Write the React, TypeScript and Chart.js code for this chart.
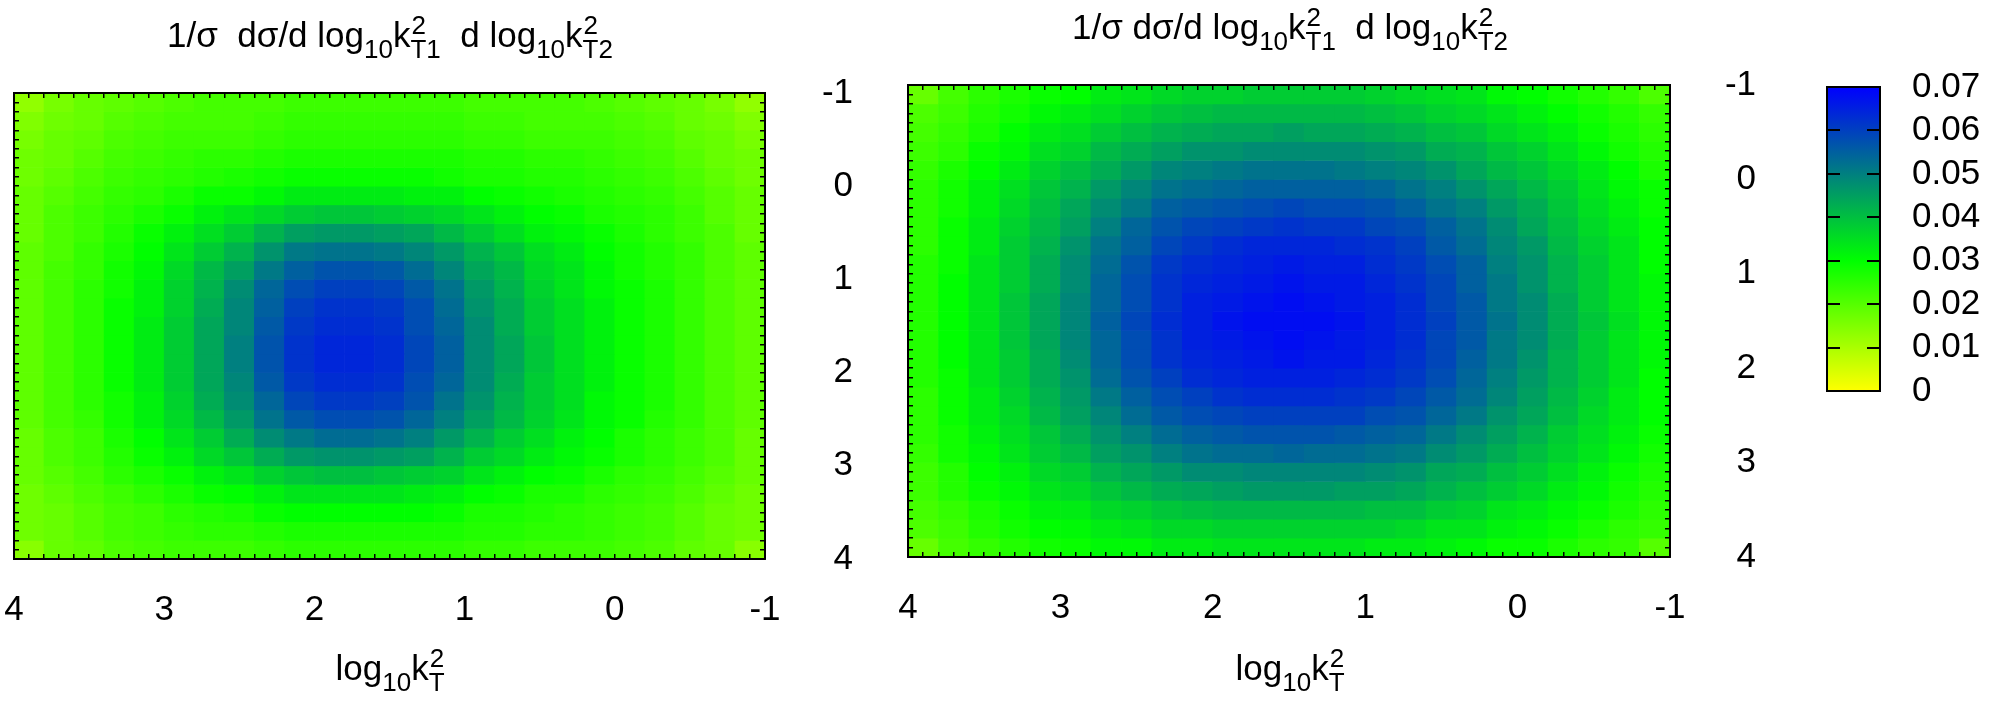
import React, { useEffect, useRef } from 'react';
import { Chart, registerables } from 'chart.js';

Chart.register(...registerables);

const FONT_FAMILY = "'Liberation Sans', Arial, Helvetica, sans-serif";
Chart.defaults.font.family = FONT_FAMILY;
Chart.defaults.color = '#000';

// ---------------- data ----------------
const AXIS_MIN = -1;
const AXIS_MAX = 4;
const AXIS_MINOR_STEP = 0.1;
const BIN_WIDTH = 0.2;
// bin centres of log10 kT^2, in display order (x axis runs 4 -> -1, y axis runs -1 -> 4)
const X_BIN_CENTERS = [3.9, 3.7, 3.5, 3.3, 3.1, 2.9, 2.7, 2.5, 2.3, 2.1, 1.9, 1.7, 1.5, 1.3, 1.1, 0.9, 0.7, 0.5, 0.3, 0.1, -0.1, -0.3, -0.5, -0.7, -0.9];
const Y_BIN_CENTERS = [-0.9, -0.7, -0.5, -0.3, -0.1, 0.1, 0.3, 0.5, 0.7, 0.9, 1.1, 1.3, 1.5, 1.7, 1.9, 2.1, 2.3, 2.5, 2.7, 2.9, 3.1, 3.3, 3.5, 3.7, 3.9];
const COLOR_SCALE_RANGE = [0, 0.07];
const COLOR_SCALE_STEP = 0.01;

// 1/sigma dsigma / dlog10kT1^2 dlog10kT2^2, rows = Y_BIN_CENTERS, columns = X_BIN_CENTERS
const LEFT_VALUES = [
  [0.013,0.016,0.018,0.019,0.020,0.021,0.022,0.022,0.022,0.023,0.023,0.023,0.023,0.023,0.023,0.022,0.022,0.022,0.022,0.021,0.020,0.019,0.018,0.016,0.013],
  [0.015,0.017,0.018,0.020,0.021,0.022,0.022,0.022,0.023,0.024,0.024,0.024,0.024,0.024,0.024,0.023,0.023,0.022,0.022,0.022,0.021,0.020,0.018,0.017,0.015],
  [0.016,0.018,0.019,0.021,0.022,0.023,0.023,0.023,0.024,0.025,0.025,0.025,0.025,0.025,0.025,0.024,0.024,0.023,0.023,0.023,0.022,0.021,0.019,0.018,0.016],
  [0.017,0.018,0.020,0.022,0.023,0.024,0.025,0.025,0.026,0.027,0.027,0.027,0.027,0.027,0.027,0.026,0.026,0.025,0.025,0.024,0.023,0.022,0.020,0.018,0.017],
  [0.017,0.019,0.021,0.023,0.024,0.025,0.026,0.027,0.028,0.029,0.029,0.029,0.029,0.029,0.028,0.027,0.027,0.026,0.026,0.025,0.024,0.023,0.021,0.019,0.017],
  [0.018,0.020,0.022,0.024,0.025,0.027,0.029,0.029,0.031,0.033,0.033,0.033,0.033,0.032,0.032,0.030,0.029,0.028,0.027,0.026,0.025,0.024,0.022,0.020,0.018],
  [0.018,0.021,0.023,0.025,0.027,0.029,0.032,0.034,0.036,0.038,0.039,0.039,0.038,0.037,0.036,0.034,0.032,0.030,0.029,0.027,0.026,0.025,0.023,0.020,0.018],
  [0.018,0.021,0.023,0.026,0.029,0.032,0.035,0.038,0.042,0.045,0.046,0.046,0.045,0.044,0.041,0.038,0.035,0.032,0.031,0.029,0.027,0.025,0.023,0.021,0.018],
  [0.019,0.021,0.024,0.027,0.030,0.034,0.038,0.042,0.047,0.051,0.052,0.052,0.051,0.049,0.046,0.042,0.039,0.035,0.033,0.030,0.028,0.026,0.024,0.021,0.019],
  [0.019,0.022,0.024,0.028,0.031,0.036,0.041,0.045,0.051,0.055,0.057,0.057,0.056,0.053,0.049,0.044,0.041,0.036,0.034,0.031,0.028,0.026,0.024,0.021,0.019],
  [0.019,0.022,0.025,0.028,0.032,0.037,0.042,0.048,0.054,0.058,0.060,0.060,0.059,0.056,0.052,0.046,0.042,0.037,0.034,0.031,0.029,0.027,0.024,0.021,0.019],
  [0.019,0.022,0.025,0.029,0.032,0.037,0.043,0.049,0.055,0.060,0.062,0.062,0.061,0.058,0.053,0.047,0.043,0.038,0.035,0.032,0.029,0.027,0.024,0.021,0.019],
  [0.019,0.022,0.025,0.029,0.033,0.038,0.044,0.049,0.056,0.061,0.063,0.063,0.062,0.058,0.054,0.048,0.043,0.038,0.035,0.032,0.029,0.027,0.024,0.021,0.019],
  [0.019,0.022,0.025,0.029,0.033,0.038,0.044,0.050,0.057,0.062,0.064,0.064,0.063,0.059,0.055,0.048,0.044,0.039,0.035,0.032,0.029,0.027,0.024,0.021,0.019],
  [0.019,0.022,0.025,0.029,0.033,0.038,0.044,0.050,0.057,0.062,0.064,0.064,0.063,0.059,0.055,0.048,0.044,0.039,0.035,0.032,0.029,0.027,0.024,0.021,0.019],
  [0.019,0.022,0.025,0.029,0.033,0.038,0.044,0.049,0.056,0.061,0.063,0.063,0.062,0.058,0.054,0.048,0.043,0.038,0.035,0.032,0.029,0.027,0.024,0.021,0.019],
  [0.019,0.022,0.025,0.028,0.032,0.037,0.043,0.048,0.054,0.059,0.061,0.061,0.060,0.057,0.052,0.047,0.042,0.038,0.035,0.031,0.029,0.027,0.024,0.021,0.019],
  [0.019,0.022,0.024,0.028,0.032,0.036,0.041,0.046,0.052,0.056,0.058,0.058,0.057,0.054,0.050,0.045,0.041,0.037,0.034,0.031,0.029,0.026,0.024,0.021,0.019],
  [0.018,0.021,0.023,0.027,0.030,0.034,0.038,0.043,0.048,0.051,0.053,0.053,0.052,0.050,0.046,0.042,0.038,0.035,0.032,0.030,0.027,0.025,0.023,0.021,0.018],
  [0.018,0.021,0.023,0.026,0.029,0.032,0.036,0.039,0.043,0.046,0.047,0.047,0.046,0.045,0.042,0.038,0.036,0.033,0.031,0.029,0.027,0.025,0.023,0.021,0.018],
  [0.018,0.020,0.022,0.025,0.027,0.029,0.032,0.034,0.037,0.039,0.040,0.040,0.039,0.038,0.037,0.034,0.032,0.030,0.029,0.027,0.025,0.024,0.022,0.020,0.018],
  [0.017,0.019,0.021,0.023,0.025,0.027,0.029,0.030,0.032,0.034,0.034,0.034,0.034,0.033,0.032,0.030,0.029,0.027,0.027,0.025,0.024,0.023,0.021,0.019,0.017],
  [0.017,0.018,0.020,0.022,0.023,0.025,0.026,0.027,0.029,0.030,0.030,0.030,0.030,0.030,0.029,0.027,0.027,0.026,0.025,0.024,0.023,0.022,0.020,0.018,0.017],
  [0.017,0.018,0.020,0.022,0.023,0.024,0.025,0.025,0.026,0.027,0.027,0.027,0.027,0.027,0.027,0.026,0.026,0.025,0.025,0.024,0.023,0.022,0.020,0.018,0.017],
  [0.014,0.018,0.019,0.021,0.022,0.023,0.023,0.023,0.024,0.025,0.025,0.025,0.025,0.025,0.025,0.024,0.024,0.023,0.023,0.023,0.022,0.021,0.019,0.018,0.014],
];

const RIGHT_VALUES = [
  [0.018,0.022,0.025,0.027,0.029,0.030,0.033,0.034,0.036,0.037,0.037,0.038,0.038,0.038,0.038,0.037,0.036,0.035,0.034,0.031,0.030,0.028,0.026,0.024,0.021],
  [0.021,0.023,0.026,0.028,0.031,0.033,0.035,0.037,0.039,0.040,0.041,0.041,0.041,0.041,0.041,0.040,0.039,0.037,0.036,0.034,0.032,0.030,0.028,0.026,0.024],
  [0.022,0.024,0.027,0.030,0.033,0.035,0.038,0.040,0.042,0.043,0.044,0.044,0.045,0.044,0.044,0.043,0.042,0.040,0.039,0.036,0.034,0.032,0.029,0.027,0.025],
  [0.023,0.025,0.029,0.031,0.035,0.037,0.041,0.043,0.045,0.047,0.047,0.048,0.048,0.048,0.048,0.047,0.046,0.043,0.042,0.039,0.037,0.034,0.031,0.028,0.026],
  [0.024,0.027,0.030,0.033,0.037,0.040,0.043,0.046,0.049,0.050,0.051,0.052,0.052,0.052,0.051,0.050,0.049,0.047,0.044,0.041,0.039,0.036,0.033,0.030,0.027],
  [0.025,0.028,0.032,0.035,0.039,0.042,0.046,0.049,0.052,0.053,0.054,0.055,0.055,0.055,0.055,0.054,0.052,0.050,0.047,0.044,0.041,0.038,0.034,0.031,0.029],
  [0.025,0.028,0.032,0.036,0.040,0.044,0.048,0.051,0.055,0.056,0.057,0.058,0.059,0.058,0.058,0.057,0.055,0.052,0.050,0.046,0.043,0.039,0.035,0.032,0.029],
  [0.025,0.029,0.033,0.037,0.041,0.045,0.050,0.054,0.057,0.059,0.060,0.061,0.062,0.061,0.061,0.059,0.058,0.055,0.052,0.048,0.044,0.040,0.036,0.033,0.030],
  [0.025,0.029,0.033,0.038,0.042,0.047,0.052,0.055,0.059,0.061,0.063,0.064,0.064,0.064,0.063,0.062,0.060,0.056,0.053,0.049,0.046,0.041,0.037,0.034,0.030],
  [0.026,0.029,0.034,0.038,0.043,0.048,0.053,0.057,0.061,0.063,0.064,0.065,0.066,0.065,0.065,0.063,0.061,0.058,0.055,0.050,0.047,0.042,0.038,0.034,0.030],
  [0.026,0.030,0.034,0.038,0.043,0.048,0.054,0.058,0.062,0.064,0.065,0.066,0.067,0.066,0.066,0.064,0.062,0.059,0.055,0.051,0.047,0.042,0.038,0.034,0.031],
  [0.026,0.030,0.034,0.039,0.044,0.049,0.054,0.058,0.062,0.065,0.066,0.067,0.068,0.067,0.066,0.065,0.063,0.059,0.056,0.051,0.048,0.043,0.038,0.034,0.031],
  [0.026,0.030,0.034,0.039,0.044,0.049,0.055,0.059,0.063,0.065,0.067,0.068,0.068,0.068,0.067,0.065,0.063,0.060,0.056,0.052,0.048,0.043,0.039,0.035,0.031],
  [0.026,0.030,0.034,0.039,0.044,0.049,0.054,0.058,0.062,0.065,0.066,0.067,0.068,0.067,0.066,0.065,0.063,0.059,0.056,0.051,0.048,0.043,0.038,0.034,0.031],
  [0.026,0.030,0.034,0.038,0.043,0.048,0.054,0.058,0.062,0.064,0.065,0.066,0.067,0.066,0.066,0.064,0.062,0.059,0.055,0.051,0.047,0.042,0.038,0.034,0.031],
  [0.026,0.029,0.034,0.038,0.043,0.047,0.053,0.057,0.060,0.063,0.064,0.065,0.065,0.065,0.064,0.063,0.061,0.058,0.054,0.050,0.046,0.042,0.038,0.034,0.030],
  [0.025,0.029,0.033,0.037,0.042,0.046,0.051,0.055,0.058,0.060,0.062,0.063,0.063,0.063,0.062,0.061,0.059,0.056,0.053,0.049,0.045,0.041,0.037,0.033,0.030],
  [0.025,0.029,0.033,0.036,0.041,0.045,0.049,0.053,0.056,0.058,0.059,0.060,0.060,0.060,0.060,0.058,0.057,0.054,0.051,0.047,0.044,0.040,0.036,0.033,0.030],
  [0.025,0.028,0.032,0.035,0.039,0.043,0.047,0.050,0.053,0.055,0.056,0.057,0.057,0.057,0.056,0.055,0.054,0.051,0.048,0.045,0.042,0.038,0.035,0.032,0.029],
  [0.024,0.028,0.031,0.034,0.038,0.041,0.045,0.047,0.050,0.052,0.053,0.053,0.054,0.053,0.053,0.052,0.051,0.048,0.046,0.043,0.040,0.037,0.034,0.031,0.028],
  [0.023,0.026,0.030,0.032,0.036,0.038,0.042,0.044,0.046,0.048,0.048,0.049,0.049,0.049,0.049,0.048,0.047,0.044,0.043,0.040,0.038,0.035,0.032,0.029,0.027],
  [0.023,0.026,0.029,0.031,0.034,0.036,0.039,0.041,0.043,0.044,0.045,0.046,0.046,0.046,0.045,0.045,0.044,0.042,0.040,0.038,0.036,0.033,0.031,0.028,0.026],
  [0.022,0.024,0.027,0.029,0.032,0.033,0.036,0.037,0.039,0.040,0.041,0.041,0.041,0.041,0.041,0.040,0.040,0.038,0.037,0.034,0.033,0.031,0.029,0.027,0.025],
  [0.021,0.023,0.026,0.028,0.030,0.031,0.033,0.034,0.036,0.036,0.037,0.037,0.037,0.037,0.037,0.037,0.036,0.034,0.034,0.032,0.031,0.029,0.027,0.025,0.024],
  [0.018,0.022,0.024,0.026,0.028,0.029,0.031,0.031,0.033,0.033,0.034,0.034,0.034,0.034,0.034,0.033,0.033,0.032,0.031,0.029,0.029,0.027,0.025,0.024,0.020],
];

// ---------------- style ----------------
const PAGE_W = 1998;
const PAGE_H = 704;
const TICK_FONT = { family: FONT_FAMILY, size: 35 };
const MAIN_SIZE = 35;
const SMALL_SIZE = 26;

const COLOR_STOPS = [
  { at: 0, rgb: [255, 255, 0] },
  { at: 0.03, rgb: [0, 255, 0] },
  { at: 0.07, rgb: [0, 0, 255] },
];

function rgbString(c: number[]) {
  return `rgb(${Math.round(c[0])},${Math.round(c[1])},${Math.round(c[2])})`;
}

function valueColor(v: number) {
  const s = COLOR_STOPS;
  if (v <= s[0].at) return rgbString(s[0].rgb);
  for (let i = 1; i < s.length; i++) {
    if (v <= s[i].at) {
      const t = (v - s[i - 1].at) / (s[i].at - s[i - 1].at);
      return rgbString(s[i - 1].rgb.map((c, k) => c + (s[i].rgb[k] - c) * t));
    }
  }
  return rgbString(s[s.length - 1].rgb);
}

type Area = { left: number; top: number; right: number; bottom: number };
type PanelLayout = { canvasLeft: number; canvasWidth: number; area: Area; yLabelRight: number };

const LEFT_PANEL: PanelLayout = { canvasLeft: 0, canvasWidth: 900, area: { left: 14, top: 93, right: 765, bottom: 559 }, yLabelRight: 853 };
const RIGHT_PANEL: PanelLayout = { canvasLeft: 880, canvasWidth: 900, area: { left: 908, top: 85, right: 1670, bottom: 557 }, yLabelRight: 1756 };
const COLORBAR_PANEL = { canvasLeft: 1790, canvasWidth: 208, area: { left: 1827, top: 87, right: 1880, bottom: 391 }, labelPadding: 45 };

const integerLabel = (v: number | string) => {
  const n = Number(v);
  return Math.abs(n - Math.round(n)) < 1e-6 ? String(Math.round(n)) : '';
};

// fixes an axis box to an exact size, with no extra label padding requested from the layout
function fixedSize(kind: 'width' | 'height', size: number) {
  return (s: any) => {
    s[kind] = size;
    s.paddingLeft = 0;
    s.paddingRight = 0;
    s.paddingTop = 0;
    s.paddingBottom = 0;
  };
}

function heatmapConfig(values: number[][], p: PanelLayout): any {
  const a = p.area;
  const rightAxisW = p.yLabelRight - a.right;
  const rightPad = p.canvasLeft + p.canvasWidth - p.yLabelRight;
  const bottomH = PAGE_H - a.bottom;
  const datasets = Y_BIN_CENTERS.map((yc, r) => ({
    type: 'bar',
    label: `row ${yc}`,
    data: X_BIN_CENTERS.map((xc) => ({ x: xc, y: [yc - BIN_WIDTH / 2, yc + BIN_WIDTH / 2] })),
    backgroundColor: values[r].map(valueColor),
    borderWidth: 0,
    grouped: false,
    categoryPercentage: 1,
    barPercentage: 1,
    xAxisID: 'xb',
    yAxisID: 'yb',
  }));
  const frameGrid = {
    display: true, drawOnChartArea: false, drawTicks: true, tickLength: -5,
    color: '#000', lineWidth: 1.5, offset: false, z: 1,
  };
  const frameBorder = { display: true, color: '#000', width: 2, z: 2 };
  const axisBase = { type: 'linear', min: AXIS_MIN, max: AXIS_MAX, reverse: true, offset: false, grid: frameGrid, border: frameBorder };
  const hiddenTicks = { display: false, stepSize: AXIS_MINOR_STEP, autoSkip: false };
  return {
    type: 'bar',
    data: { datasets },
    options: {
      responsive: false,
      animation: false,
      devicePixelRatio: 1,
      events: [],
      layout: { autoPadding: false, padding: { left: a.left - p.canvasLeft, top: a.top, right: rightPad, bottom: 0 } },
      plugins: { legend: { display: false }, tooltip: { enabled: false }, title: { display: false } },
      scales: {
        xb: { type: 'linear', display: false, min: AXIS_MIN, max: AXIS_MAX, reverse: true, offset: false, ticks: { stepSize: 1 }, grid: { offset: false } },
        yb: { type: 'linear', display: false, min: AXIS_MIN, max: AXIS_MAX, reverse: true },
        xBottom: {
          ...axisBase, position: 'bottom',
          afterFit: fixedSize('height', bottomH),
          ticks: { stepSize: AXIS_MINOR_STEP, autoSkip: false, maxRotation: 0, minRotation: 0, padding: 35, font: TICK_FONT, color: '#000', callback: integerLabel },
        },
        xTop: { ...axisBase, position: 'top', afterFit: fixedSize('height', 0), ticks: hiddenTicks },
        yLeft: { ...axisBase, position: 'left', afterFit: fixedSize('width', 0), ticks: hiddenTicks },
        yRight: {
          ...axisBase, position: 'right',
          afterFit: fixedSize('width', rightAxisW),
          ticks: { stepSize: AXIS_MINOR_STEP, autoSkip: false, padding: 10, crossAlign: 'far', font: TICK_FONT, color: '#000', callback: integerLabel },
        },
      },
    },
  };
}

function colorbarConfig(): any {
  const p = COLORBAR_PANEL;
  const a = p.area;
  const rightW = p.canvasLeft + p.canvasWidth - a.right;
  const bottomH = PAGE_H - a.bottom;
  const [cmin, cmax] = COLOR_SCALE_RANGE;
  const tickGrid = { display: true, drawOnChartArea: false, drawTicks: true, tickLength: -13, color: '#000', lineWidth: 2, z: 1 };
  const border = { display: true, color: '#000', width: 2, z: 2 };
  const frameX = { type: 'linear', min: 0, max: 1, offset: false, ticks: { display: false }, grid: { display: false }, border };
  const yBase = { type: 'linear', min: cmin, max: cmax, grid: tickGrid, border };
  return {
    type: 'bar',
    data: {
      labels: ['colour scale'],
      datasets: [{
        label: 'colour scale',
        data: [COLOR_SCALE_RANGE],
        backgroundColor: (ctx: any) => {
          const chart = ctx.chart;
          const ys = chart.scales.yb;
          if (!chart.chartArea || !ys) return 'rgba(0,0,0,0)';
          const g = chart.ctx.createLinearGradient(0, ys.getPixelForValue(cmin), 0, ys.getPixelForValue(cmax));
          COLOR_STOPS.forEach((s) => g.addColorStop((s.at - cmin) / (cmax - cmin), rgbString(s.rgb)));
          return g;
        },
        borderWidth: 0,
        categoryPercentage: 1,
        barPercentage: 1,
        xAxisID: 'xb',
        yAxisID: 'yb',
      }],
    },
    options: {
      responsive: false,
      animation: false,
      devicePixelRatio: 1,
      events: [],
      layout: { autoPadding: false, padding: { left: a.left - p.canvasLeft, top: a.top, right: 0, bottom: 0 } },
      plugins: { legend: { display: false }, tooltip: { enabled: false }, title: { display: false } },
      scales: {
        xb: { type: 'category', display: false },
        yb: { type: 'linear', display: false, min: cmin, max: cmax },
        xBottom: { ...frameX, position: 'bottom', afterFit: fixedSize('height', bottomH) },
        xTop: { ...frameX, position: 'top', afterFit: fixedSize('height', 0) },
        yLeft: { ...yBase, position: 'left', afterFit: fixedSize('width', 0), ticks: { display: false, stepSize: COLOR_SCALE_STEP, autoSkip: false } },
        yRight: {
          ...yBase, position: 'right',
          afterFit: fixedSize('width', rightW),
          ticks: {
            stepSize: COLOR_SCALE_STEP, autoSkip: false, padding: p.labelPadding, font: TICK_FONT, color: '#000',
            callback: (v: number | string) => (Number(v) === 0 ? '0' : Number(v).toFixed(2)),
          },
        },
      },
    },
  };
}

function ChartCanvas({ left, width, makeConfig }: { left: number; width: number; makeConfig: () => any }) {
  const ref = useRef<HTMLCanvasElement>(null);
  useEffect(() => {
    if (!ref.current) return;
    const chart = new Chart(ref.current, makeConfig());
    return () => chart.destroy();
  }, []);
  return <canvas ref={ref} width={width} height={PAGE_H} style={{ position: 'absolute', left, top: 0, width, height: PAGE_H }} />;
}

// ---------------- text with sub/superscripts ----------------
function Lower({ children }: { children: React.ReactNode }) {
  return <span style={{ fontSize: SMALL_SIZE, lineHeight: 1, position: 'relative', top: 11 }}>{children}</span>;
}

function KStack({ sub }: { sub: string }) {
  return (
    <>
      k
      <span style={{ position: 'relative', display: 'inline-block', fontSize: SMALL_SIZE, lineHeight: 1 }}>
        <span style={{ visibility: 'hidden' }}>{sub}</span>
        <span style={{ position: 'absolute', left: 1, top: -13 }}>2</span>
        <span style={{ position: 'absolute', left: 0, top: 11 }}>{sub}</span>
      </span>
    </>
  );
}

const BASELINE_IN_BOX = 32;

function TextLine({ cx, baseline, children }: { cx: number; baseline: number; children: React.ReactNode }) {
  return (
    <div style={{
      position: 'absolute', left: cx - 400, width: 800, top: baseline - BASELINE_IN_BOX,
      textAlign: 'center', fontSize: MAIN_SIZE, lineHeight: '40px', whiteSpace: 'pre', color: '#000',
    }}>
      {children}
    </div>
  );
}

function PanelTitle({ cx, baseline, gap }: { cx: number; baseline: number; gap: string }) {
  return (
    <TextLine cx={cx} baseline={baseline}>
      {'1/σ' + gap + 'dσ/d log'}<Lower>10</Lower><KStack sub="T1" />{'  d log'}<Lower>10</Lower><KStack sub="T2" />
    </TextLine>
  );
}

function AxisTitle({ cx, baseline }: { cx: number; baseline: number }) {
  return (
    <TextLine cx={cx} baseline={baseline}>
      {'log'}<Lower>10</Lower><KStack sub="T" />
    </TextLine>
  );
}

export default function App() {
  return (
    <div style={{ position: 'absolute', left: 0, top: 0, width: PAGE_W, height: PAGE_H, background: '#fff', fontFamily: FONT_FAMILY, overflow: 'hidden' }}>
      <ChartCanvas left={LEFT_PANEL.canvasLeft} width={LEFT_PANEL.canvasWidth} makeConfig={() => heatmapConfig(LEFT_VALUES, LEFT_PANEL)} />
      <ChartCanvas left={RIGHT_PANEL.canvasLeft} width={RIGHT_PANEL.canvasWidth} makeConfig={() => heatmapConfig(RIGHT_VALUES, RIGHT_PANEL)} />
      <ChartCanvas left={COLORBAR_PANEL.canvasLeft} width={COLORBAR_PANEL.canvasWidth} makeConfig={colorbarConfig} />
      <PanelTitle cx={390} baseline={47} gap={'  '} />
      <PanelTitle cx={1290} baseline={39} gap={' '} />
      <AxisTitle cx={390} baseline={680} />
      <AxisTitle cx={1290} baseline={680} />
    </div>
  );
}
